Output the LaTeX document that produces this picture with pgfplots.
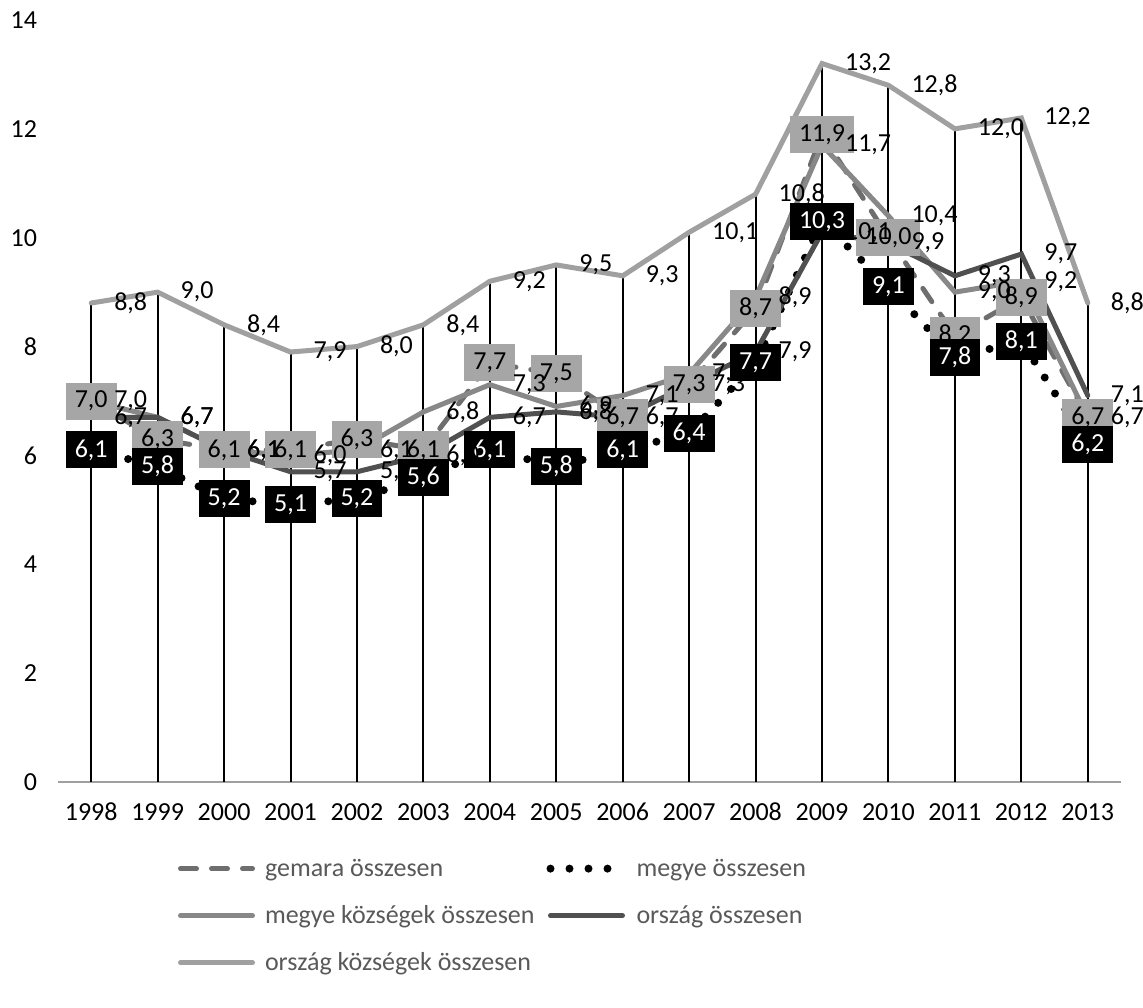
\documentclass[border=0pt]{standalone}
\usepackage{fontspec}
\setmainfont{Carlito}
\usepackage{pgfplots}
\usepackage{pgfplotstable}
\pgfplotsset{compat=1.18}
\definecolor{cGem}{HTML}{6E6E6E}
\definecolor{cMK}{HTML}{888888}
\definecolor{cOrsz}{HTML}{505050}
\definecolor{cOK}{HTML}{A0A0A0}
\definecolor{boxgray}{HTML}{A6A6A6}
\definecolor{axgray}{HTML}{A0A0A0}
\definecolor{legtext}{HTML}{595959}
\pgfplotstableread{
year gem megye mk orsz ok
1998 7.0 6.1 7.0 6.7 8.8
1999 6.3 5.8 6.7 6.7 9.0
2000 6.1 5.2 6.1 6.1 8.4
2001 6.1 5.1 6.0 5.7 7.9
2002 6.3 5.2 6.1 5.7 8.0
2003 6.1 5.6 6.8 6.0 8.4
2004 7.7 6.1 7.3 6.7 9.2
2005 7.5 5.8 6.9 6.8 9.5
2006 6.7 6.1 7.1 6.7 9.3
2007 7.3 6.4 7.5 7.3 10.1
2008 8.7 7.7 8.9 7.9 10.8
2009 11.9 10.3 11.7 10.1 13.2
2010 10.0 9.1 10.4 9.9 12.8
2011 8.2 7.8 9.0 9.3 12.0
2012 8.9 8.1 9.2 9.7 12.2
2013 6.7 6.2 6.7 7.1 8.8
}\data
\newcommand{\lbl}{\pgfmathprintnumber[fixed,fixed zerofill,precision=1,use comma]{\pgfplotspointmeta}}
\newcommand{\fs}{\fontsize{13}{15.6}\selectfont}
\begin{document}
\begin{tikzpicture}
\begin{axis}[
  at={(0,0)}, anchor=south west,
  scale only axis, width=531.5pt, height=381pt,
  xmin=1997.5, xmax=2013.5, ymin=0, ymax=14,
  xtick={1998,1999,...,2013},
  xticklabels={1998,1999,2000,2001,2002,2003,2004,2005,2006,2007,2008,2009,2010,2011,2012,2013},
  ytick={0,2,...,14},
  axis lines*=left,
  x axis line style={draw=axgray, line width=1pt},
  y axis line style={draw=none},
  major tick length=0pt,
  tick label style={font=\fs, text=black},
  yticklabel style={xshift=-7pt},
  xticklabel style={yshift=-7pt, text height=8.5pt, text depth=0pt},
  /pgf/number format/assume math mode=true,
  clip=false,
  legend columns=2,
  legend cell align=left,
  legend style={at={(0.1129,-0.1)}, anchor=north west, draw=none, fill=none,
    inner sep=0pt, outer sep=0pt, font=\fs, text=legtext,
    nodes={inner sep=0pt, text height=9pt, text depth=3pt},
    row sep=11.5pt,
    /tikz/every odd column/.append style={column sep=5pt},
    /tikz/every even column/.append style={column sep=6pt}},
  legend image code/.code={\draw[#1] (0pt,0.8pt) -- (36pt,0.8pt);},
]
% drop lines
\addplot[ycomb, black, line width=1pt, mark=none, forget plot] table[x=year,y=ok]{\data};
% lines
\addplot[cGem, line width=2.5pt, line cap=round, dash pattern=on 8pt off 7.5pt, mark=none] table[x=year,y=gem]{\data};
\addlegendentry{gemara összesen}
\addplot[black, line width=4pt, line cap=round, dash pattern=on 0pt off 9.5pt, mark=none] table[x=year,y=megye]{\data};
\addlegendentry{megye összesen}
\addplot[cMK, line width=2.5pt, line cap=round, mark=none] table[x=year,y=mk]{\data};
\addlegendentry{megye községek összesen}
\addplot[cOrsz, line width=2.5pt, line cap=round, mark=none] table[x=year,y=orsz]{\data};
\addlegendentry{ország összesen}
\addplot[cOK, line width=2.5pt, line cap=round, mark=none] table[x=year,y=ok]{\data};
\addlegendentry{ország községek összesen}
% labels
\addplot[draw=none, mark=none, forget plot, nodes near coords={\lbl},
  every node near coord/.append style={anchor=center, fill=boxgray, text=black, font=\fs,
    inner xsep=4.5pt, inner ysep=0pt, minimum height=18.5pt}] table[x=year,y=gem]{\data};
\addplot[draw=none, mark=none, forget plot, nodes near coords={\lbl},
  every node near coord/.append style={anchor=center, fill=black, text=white, font=\fs,
    inner xsep=4.5pt, inner ysep=0pt, minimum height=18.5pt}] table[x=year,y=megye]{\data};
\addplot[draw=none, mark=none, forget plot, nodes near coords={\lbl},
  every node near coord/.append style={anchor=west, xshift=8pt, text=black, font=\fs}] table[x=year,y=mk]{\data};
\addplot[draw=none, mark=none, forget plot, nodes near coords={\lbl},
  every node near coord/.append style={anchor=west, xshift=8pt, text=black, font=\fs}] table[x=year,y=orsz]{\data};
\addplot[draw=none, mark=none, forget plot, nodes near coords={\lbl},
  every node near coord/.append style={anchor=west, xshift=8pt, text=black, font=\fs}] table[x=year,y=ok]{\data};
\end{axis}
\pgfresetboundingbox
\path (-29pt,-112.5pt) rectangle (542.5pt,391pt);
\end{tikzpicture}
\end{document}
